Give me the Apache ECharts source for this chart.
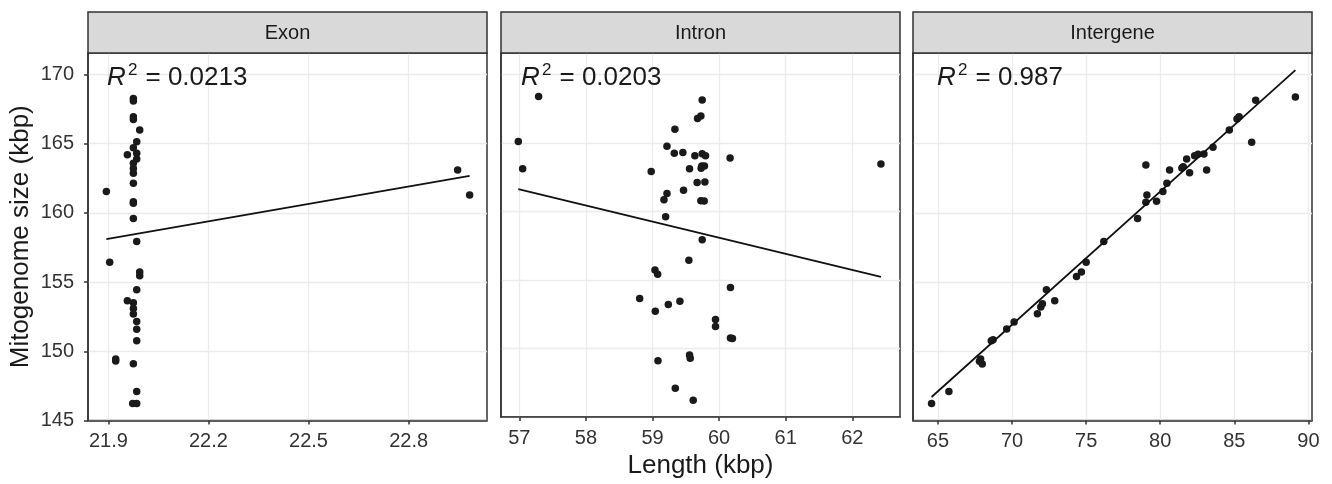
<!DOCTYPE html>
<html>
<head>
<meta charset="utf-8">
<script src="https://cdn.jsdelivr.net/npm/echarts@6/dist/echarts.min.js"></script>
<style>
  html, body { margin: 0; padding: 0; background: #fff; }
  #chart { width: 1332px; height: 484px; }
</style>
</head>
<body>
<div id="chart"></div>
<script>
// 数据: 每个面板 长度(kbp) / 线粒体基因组大小(kbp)
var exonLen = [21.975, 21.975, 21.975, 21.975, 21.994, 21.985, 21.975, 21.957, 21.985, 21.985,
    21.975, 21.975, 21.975, 21.975, 21.975, 21.975, 21.975, 21.894, 21.985, 21.904,
    21.994, 21.994, 21.985, 21.957, 21.975, 21.975, 21.975, 21.985, 21.985, 21.985,
    21.922, 21.922, 21.975, 21.985, 21.973, 21.985, 22.947, 22.983];
var exonSize = [168.27, 168.08, 166.95, 166.75, 165.99, 165.14, 164.7, 164.2, 164.3, 163.9,
    163.58, 163.2, 162.86, 162.14, 160.8, 160.7, 159.6, 161.54, 157.93, 156.44,
    155.72, 155.46, 154.45, 153.65, 153.5, 153.1, 152.7, 152.16, 151.6, 150.77,
    149.45, 149.3, 149.1, 147.1, 146.23, 146.23, 163.1, 161.3];

var intronLen = [56.985, 57.05, 57.29, 59.746, 59.676, 59.726, 59.336, 59.217, 59.327, 59.456,
    59.636, 59.746, 59.796, 60.165, 62.43, 58.98, 59.556, 59.74, 59.78, 59.73,
    59.67, 59.786, 59.466, 59.217, 59.172, 59.726, 59.776, 59.197, 59.746, 59.546,
    59.037, 59.077, 60.17, 58.807, 59.411, 59.237, 59.042, 59.946, 59.946, 60.17,
    60.2, 59.082, 59.556, 59.566, 59.342, 59.611];
var intronSize = [165.1, 163.1, 168.37, 168.13, 166.78, 166.95, 165.99, 164.74, 164.23, 164.3,
    164.06, 164.2, 164.06, 163.9, 163.46, 162.9, 163.1, 163.3, 163.3, 163.15,
    162.1, 162.14, 161.54, 161.3, 160.84, 160.77, 160.75, 159.6, 157.93, 156.44,
    155.72, 155.41, 154.45, 153.65, 153.44, 153.2, 152.72, 152.12, 151.61, 150.77,
    150.72, 149.1, 149.52, 149.28, 147.1, 146.23];

var intergeneLen = [64.57, 65.74, 67.8, 67.99, 67.88, 68.6, 68.72, 69.64, 70.14, 71.71,
    71.94, 72.05, 72.32, 72.88, 74.35, 74.68, 75.0, 76.19, 78.47, 79.03,
    79.1, 79.75, 79.03, 80.18, 80.45, 80.63, 81.46, 81.55, 81.78, 81.98,
    82.32, 82.55, 82.95, 83.13, 83.56, 84.66, 85.18, 85.32, 86.17, 86.44, 89.12];
var intergeneSize = [146.23, 147.1, 149.28, 149.09, 149.45, 150.77, 150.84, 151.61, 152.12, 152.72,
    153.2, 153.44, 154.45, 153.65, 155.41, 155.72, 156.44, 157.93, 159.6, 160.77,
    161.3, 160.84, 163.46, 161.54, 162.14, 163.1, 163.25, 163.34, 163.9, 162.9,
    164.13, 164.23, 164.26, 163.1, 164.74, 165.99, 166.78, 166.95, 165.1, 168.13, 168.37];

// 回归线端点
var exonFit = [[21.894, 158.1], [22.983, 162.67]];
var intronFit = [[56.985, 161.63], [62.43, 155.22]];
var intergeneFit = [[64.57, 146.7], [89.12, 170.31]];

var panelNames = ['Exon', 'Intron', 'Intergene'];
var r2Labels = ['0.0213', '0.0203', '0.987'];
var exonTicks = [21.9, 22.2, 22.5, 22.8];
var intronTicks = [57, 58, 59, 60, 61, 62];
var intergeneTicks = [65, 70, 75, 80, 85, 90];
var sizeTicks = [145, 150, 155, 160, 165, 170];

var FONT = '"Liberation Sans", Arial, sans-serif';
var panelLeft = [88, 501, 913];
var panelTop = 53;
var panelW = 399;
var panelH = 367.5;
var xRange = [[21.839, 23.035], [56.725, 62.716], [63.317, 90.24]];
var xTicks = [exonTicks, intronTicks, intergeneTicks];
var r2Left = [107, 521, 937];

function pairs(xs, ys) {
    var out = [];
    for (var i = 0; i < xs.length; i++) out.push([xs[i], ys[i]]);
    return out;
}

var grids = [], xAxes = [], yAxes = [], series = [], graphics = [];
var pts = [pairs(exonLen, exonSize), pairs(intronLen, intronSize), pairs(intergeneLen, intergeneSize)];
var fits = [exonFit, intronFit, intergeneFit];

for (var i = 0; i < 3; i++) {
    grids.push({
        left: panelLeft[i], top: panelTop, width: panelW, height: panelH,
        show: true, backgroundColor: '#fff', borderColor: '#333', borderWidth: 1.5
    });
    xAxes.push({
        type: 'value', gridIndex: i, min: xRange[i][0], max: xRange[i][1],
        axisLine: { show: true, lineStyle: { color: '#333', width: 1.5 } },
        axisTick: { show: true, length: 4, customValues: xTicks[i], lineStyle: { color: '#333', width: 1.5 } },
        axisLabel: { customValues: xTicks[i], color: '#333', fontSize: 20, margin: 11, fontFamily: FONT },
        splitLine: { show: true, lineStyle: { color: '#ebebeb', width: 1.3 } },
        name: i === 1 ? 'Length (kbp)' : '',
        nameLocation: 'middle', nameGap: 36,
        nameTextStyle: { fontSize: 26, color: '#1a1a1a', fontFamily: FONT }
    });
    yAxes.push({
        type: 'value', gridIndex: i, min: 145, max: 171.55,
        axisLine: { show: true, lineStyle: { color: '#333', width: 1.5 } },
        axisTick: { show: i === 0, length: 4, customValues: sizeTicks, lineStyle: { color: '#333', width: 1.5 } },
        axisLabel: { show: i === 0, customValues: sizeTicks, color: '#333', fontSize: 20, margin: 14, fontFamily: FONT },
        splitLine: { show: true, lineStyle: { color: '#ebebeb', width: 1.3 } },
        name: i === 0 ? 'Mitogenome size (kbp)' : '',
        nameLocation: 'middle', nameGap: 54,
        nameTextStyle: { fontSize: 26, color: '#1a1a1a', fontFamily: FONT }
    });
    series.push({
        type: 'scatter', xAxisIndex: i, yAxisIndex: i,
        symbol: 'circle', symbolSize: 7.5,
        itemStyle: { color: '#1a1a1a', opacity: 1 },
        data: pts[i]
    });
    series.push({
        type: 'line', xAxisIndex: i, yAxisIndex: i,
        symbol: 'none', silent: true,
        lineStyle: { color: '#111', width: 1.8 },
        data: fits[i]
    });
    // 分面标题条
    graphics.push({
        type: 'rect', z: 50,
        shape: { x: panelLeft[i], y: 12, width: panelW, height: 41 },
        style: { fill: '#d9d9d9', stroke: '#333', lineWidth: 1.5 }
    });
    graphics.push({
        type: 'text', z: 60,
        x: panelLeft[i] + panelW / 2, y: 33,
        style: { text: panelNames[i], fill: '#1a1a1a', font: '20px ' + FONT, align: 'center', verticalAlign: 'middle' }
    });
    // R2 标注: R + 上标2 + 数值
    graphics.push({
        type: 'text', z: 60,
        x: r2Left[i], y: 77.5,
        style: { text: 'R', fill: '#1a1a1a', font: 'italic 26px ' + FONT, verticalAlign: 'middle' }
    });
    graphics.push({
        type: 'text', z: 60,
        x: r2Left[i] + 21, y: 70,
        style: { text: '2', fill: '#1a1a1a', font: '17px ' + FONT, verticalAlign: 'middle' }
    });
    graphics.push({
        type: 'text', z: 60,
        x: r2Left[i] + 38.5, y: 77.5,
        style: { text: '= ' + r2Labels[i], fill: '#1a1a1a', font: '26px ' + FONT, verticalAlign: 'middle' }
    });
}

var option = {
    animation: false,
    backgroundColor: '#fff',
    textStyle: { fontFamily: FONT },
    grid: grids,
    xAxis: xAxes,
    yAxis: yAxes,
    series: series,
    graphic: graphics
};

var myChart = echarts.init(document.getElementById('chart'));
myChart.setOption(option);
</script>
</body>
</html>
